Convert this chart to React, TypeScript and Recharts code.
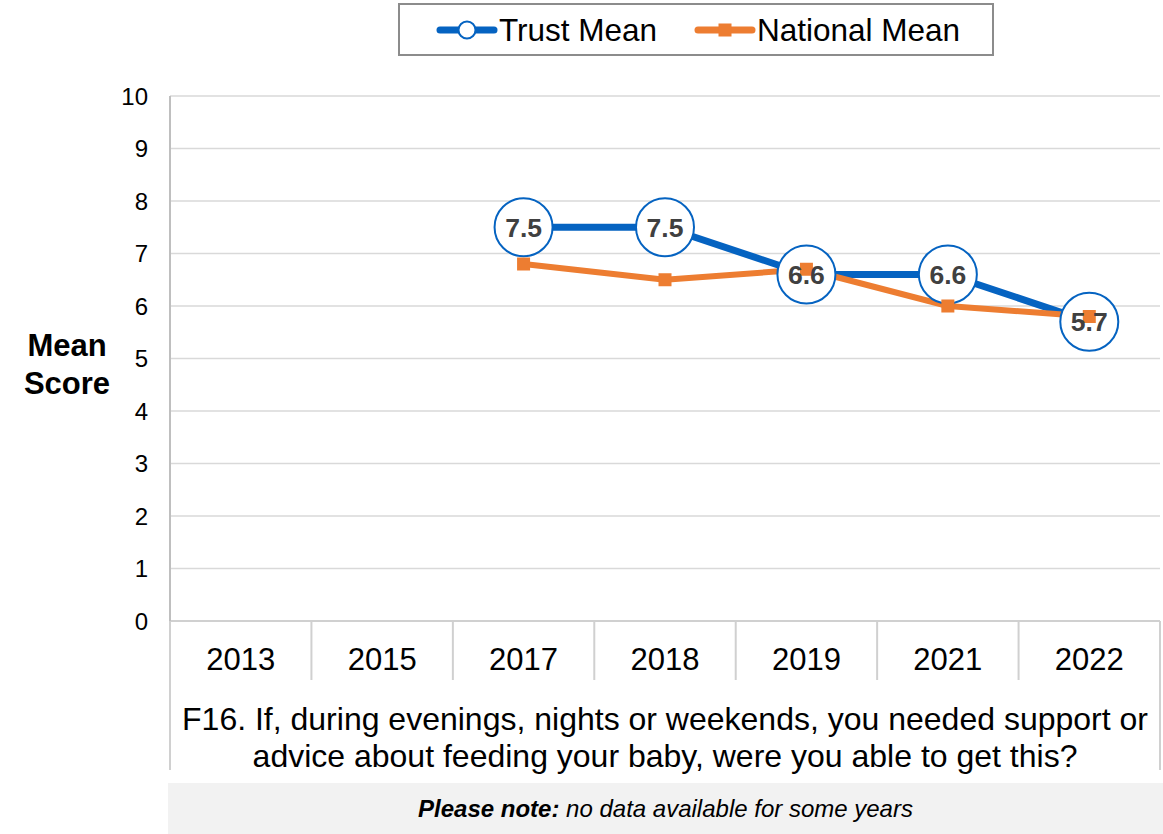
import { CartesianGrid, Label, Line, LineChart, XAxis, YAxis } from "recharts";

const years = ["2013", "2015", "2017", "2018", "2019", "2021", "2022"];
const trustMean = [null, null, 7.5, 7.5, 6.6, 6.6, 5.7];
const nationalMean = [null, null, 6.8, 6.5, 6.7, 6.0, 5.8];
const yTicks = [0, 1, 2, 3, 4, 5, 6, 7, 8, 9, 10];
const questionLines = [
  "F16. If, during evenings, nights or weekends, you needed support or",
  "advice about feeding your baby, were you able to get this?",
];

const FONT = '"Liberation Sans", Arial, sans-serif';
const BLUE = "#0563c1";
const ORANGE = "#ed7d31";
const W = 1163;
const H = 834;
const PLOT_LEFT = 170;
const PLOT_RIGHT = 1160;
const PLOT_TOP = 96;
const PLOT_BOTTOM = 621;
const BAND = (PLOT_RIGHT - PLOT_LEFT) / years.length;
const Y_AXIS_W = 40;
const X_AXIS_H = 60;

const data = years.map((y, i) => ({ year: y, trust: trustMean[i], national: nationalMean[i] }));

function XTick(props: any) {
  const { x, payload, index } = props;
  const last = index === years.length - 1;
  return (
    <g>
      <line x1={x - BAND / 2} x2={x - BAND / 2} y1={PLOT_BOTTOM} y2={index === 0 ? 770 : 680} stroke="#d0d0d0" strokeWidth={2} />
      {last && <line x1={x + BAND / 2} x2={x + BAND / 2} y1={PLOT_BOTTOM} y2={770} stroke="#d0d0d0" strokeWidth={2} />}
      <text x={x} y={PLOT_BOTTOM + 49} textAnchor="middle" fontSize={31} fontFamily={FONT} fill="#000">
        {payload.value}
      </text>
    </g>
  );
}

function NationalDot(props: any) {
  const { cx, cy, value, index } = props;
  if (value == null || cx == null) return <g key={"n" + index} />;
  return <rect key={"n" + index} x={cx - 6.5} y={cy - 6.5} width={13} height={13} fill={ORANGE} />;
}

function ValueText(props: any) {
  const { cx, cy, value, index } = props;
  if (value == null || cx == null) return <g key={"v" + index} />;
  return (
    <text key={"v" + index} x={cx} y={cy + 9.5} textAnchor="middle" fontSize={26.5} fontWeight="bold" fontFamily={FONT} fill="#404040">
      {value.toFixed(1)}
    </text>
  );
}

function Legend() {
  return (
    <div
      style={{
        position: "absolute",
        left: 398,
        top: 3,
        width: 592,
        height: 49,
        border: "2px solid #8c8c8c",
        fontFamily: FONT,
        fontSize: 31.5,
        color: "#000",
      }}
    >
      <svg style={{ position: "absolute", left: 36, top: 15 }} width={62} height={20}>
        <line x1={4} x2={58} y1={10} y2={10} stroke={BLUE} strokeWidth={7} strokeLinecap="round" />
        <circle cx={31} cy={10} r={8.5} fill="#fff" stroke={BLUE} strokeWidth={2} />
      </svg>
      <span style={{ position: "absolute", left: 99, top: 9, lineHeight: "32px" }}>Trust Mean</span>
      <svg style={{ position: "absolute", left: 294, top: 15 }} width={62} height={20}>
        <line x1={4} x2={58} y1={10} y2={10} stroke={ORANGE} strokeWidth={7} strokeLinecap="round" />
        <rect x={24.5} y={3.5} width={13} height={13} fill={ORANGE} />
      </svg>
      <span style={{ position: "absolute", left: 357, top: 9, lineHeight: "32px" }}>National Mean</span>
    </div>
  );
}

export default function App() {
  return (
    <div style={{ position: "absolute", left: 0, top: 0, width: W, height: H, background: "#fff", overflow: "hidden" }}>
      <LineChart
        width={W}
        height={H}
        data={data}
        margin={{
          top: PLOT_TOP,
          right: W - PLOT_RIGHT,
          bottom: H - PLOT_BOTTOM - X_AXIS_H,
          left: PLOT_LEFT - Y_AXIS_W,
        }}
      >
        <CartesianGrid vertical={false} stroke="#d9d9d9" strokeWidth={1.5} />
        <XAxis
          dataKey="year"
          height={X_AXIS_H}
          padding={{ left: BAND / 2, right: BAND / 2 }}
          tick={<XTick />}
          tickLine={false}
          tickSize={0}
          axisLine={{ stroke: "#d0d0d0", strokeWidth: 2 }}
          interval={0}
        >
          <Label
            content={() => (
              <g>
                {questionLines.map((t, i) => (
                  <text key={i} x={(PLOT_LEFT + PLOT_RIGHT) / 2} y={730 + i * 37} textAnchor="middle" fontSize={32} fontFamily={FONT} fill="#000">
                    {t}
                  </text>
                ))}
              </g>
            )}
          />
        </XAxis>
        <YAxis
          width={Y_AXIS_W}
          domain={[0, 10]}
          ticks={yTicks}
          tickLine={false}
          tickSize={0}
          tickMargin={22}
          axisLine={{ stroke: "#bfbfbf", strokeWidth: 2 }}
          tick={{ fontSize: 24, fontFamily: FONT, fill: "#000" }}
        >
          <Label
            content={() => (
              <g>
                <text x={67} y={356} textAnchor="middle" fontSize={31} fontWeight="bold" fontFamily={FONT} fill="#000">
                  Mean
                </text>
                <text x={67} y={394} textAnchor="middle" fontSize={31} fontWeight="bold" fontFamily={FONT} fill="#000">
                  Score
                </text>
              </g>
            )}
          />
        </YAxis>
        <Line
          type="linear"
          dataKey="trust"
          stroke={BLUE}
          strokeWidth={7}
          strokeLinejoin="round"
          dot={{ r: 29, fill: "#fff", stroke: BLUE, strokeWidth: 2 }}
          activeDot={false}
          isAnimationActive={false}
        />
        <Line
          type="linear"
          dataKey="national"
          stroke={ORANGE}
          strokeWidth={6}
          strokeLinejoin="round"
          dot={<NationalDot />}
          activeDot={false}
          isAnimationActive={false}
        />
        <Line
          type="linear"
          dataKey="trust"
          stroke="none"
          dot={<ValueText />}
          activeDot={false}
          legendType="none"
          isAnimationActive={false}
        />
      </LineChart>
      <Legend />
      <div
        style={{
          position: "absolute",
          left: 168,
          top: 783,
          width: 995,
          height: 51,
          background: "#f2f2f2",
          fontFamily: FONT,
          fontSize: 24,
          fontStyle: "italic",
          textAlign: "center",
          lineHeight: "51px",
          color: "#000",
        }}
      >
        <b>Please note:</b> no data available for some years
      </div>
    </div>
  );
}
